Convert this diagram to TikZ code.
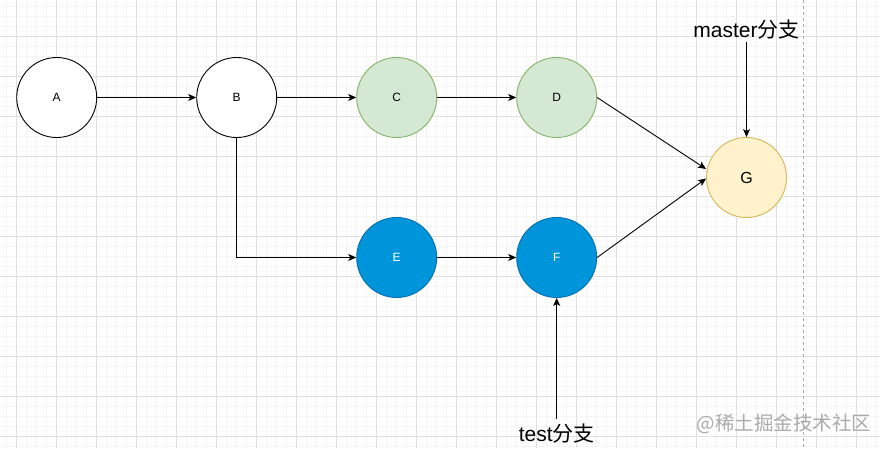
\documentclass[tikz,border=0pt]{standalone}
\usepackage{fontspec}
\setmainfont{Liberation Sans}
\newfontfamily\cjk{Noto Sans CJK SC}
\usetikzlibrary{arrows.meta,calc}
\definecolor{gridminor}{HTML}{F5F5F5}
\definecolor{gridmajor}{HTML}{E0E0E0}
\definecolor{greenfill}{HTML}{D5E8D4}
\definecolor{greenline}{HTML}{82B366}
\definecolor{bluefill}{HTML}{0095DA}
\definecolor{blueline}{HTML}{006EAF}
\definecolor{yellowfill}{HTML}{FFF2CC}
\definecolor{yellowline}{HTML}{D6B656}
\definecolor{wmark}{HTML}{ABABAB}
\tikzset{
  commit/.style={circle, draw=black, line width=0.9pt, minimum size=80pt, inner sep=0pt, font=\fontsize{12}{14}\selectfont, fill=white},
  greencommit/.style={commit, fill=greenfill, draw=greenline},
  bluecommit/.style={commit, fill=bluefill, draw=blueline, text=white},
  yellowcommit/.style={commit, fill=yellowfill, draw=yellowline, font=\fontsize{16}{18}\selectfont},
  branchlabel/.style={inner sep=0pt, font=\fontsize{21}{24}\selectfont},
  link/.style={draw=black, line width=0.9pt, -{Stealth[length=8pt,width=7pt,inset=2pt]}}
}
\begin{document}
\begin{tikzpicture}[x=1pt,y=-1pt]
\useasboundingbox (0,0) rectangle (880,448);
\fill[white] (0,0) rectangle (880,448);
% grid
\foreach \gx in {6.7,16.7,...,880} {\draw[gridminor, line width=0.6pt] (\gx,0) -- (\gx,448);}
\foreach \gy in {6.7,16.7,...,448} {\draw[gridminor, line width=0.6pt] (0,\gy) -- (880,\gy);}
\foreach \gx in {16.7,56.7,...,880} {\draw[gridmajor, line width=0.8pt] (\gx,0) -- (\gx,448);}
\foreach \gy in {36.7,76.7,...,448} {\draw[gridmajor, line width=0.8pt] (0,\gy) -- (880,\gy);}
\draw[gray!70, line width=0.8pt, dash pattern=on 3pt off 3pt] (803.3,0) -- (803.3,448);
% commits
\node[commit] (A) at (56.7,97.5) {A};
\node[commit] (B) at (236.7,97.5) {B};
\node[greencommit] (C) at (396.7,97.5) {C};
\node[greencommit] (D) at (556.7,97.5) {D};
\node[bluecommit] (E) at (396.7,257.5) {E};
\node[bluecommit] (F) at (556.7,257.5) {F};
\node[yellowcommit] (G) at (746.5,177.5) {G};
% labels
\node[branchlabel] (master) at (746.5,30) {master{\cjk 分支}};
\node[branchlabel] (test) at (556.7,434) {test{\cjk 分支}};
\node[inner sep=0pt, text=wmark, font=\cjk\fontsize{19.5}{22}\selectfont] (wm) at (784,423.5) {@稀土掘金技术社区};
% edges
\coordinate (Gd) at ($(G.west)+(0,-8.5)$);
\coordinate (Gf) at ($(G.west)+(0,1)$);
\draw[link] (A) -- (B);
\draw[link] (B) -- (C);
\draw[link] (C) -- (D);
\draw[link] (B.south) |- (E.west);
\draw[link] (E) -- (F);
\draw[link] (D.east) -- (Gd);
\draw[link] (F.east) -- (Gf);
\draw[link] (master.south) ++(0,2) -- (G.north);
\draw[link] (test.north) ++(0,-5) -- (F.south);
\end{tikzpicture}
\end{document}
